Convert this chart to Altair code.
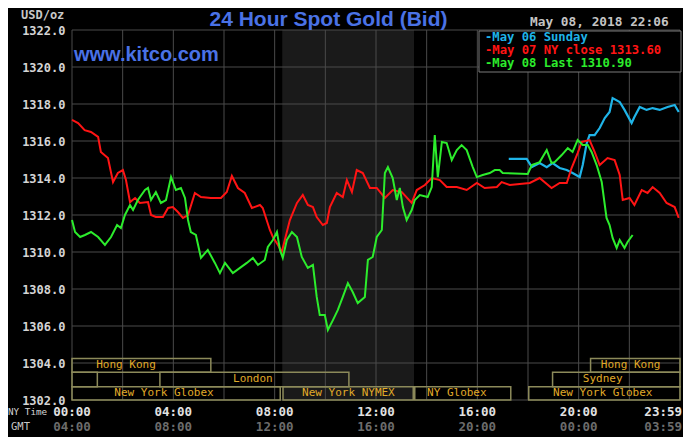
import altair as alt
import pandas as pd

# ---------------- data (hours in NY time, price in USD/oz) ----------------
red_points = [  # May 07 NY close
    (0.00, 1317.14), (0.24, 1316.97), (0.50, 1316.59), (0.75, 1316.49), (1.03, 1316.22),
    (1.14, 1315.41), (1.42, 1315.08), (1.62, 1313.78), (1.81, 1314.27), (2.01, 1314.43),
    (2.13, 1313.89), (2.29, 1312.70), (2.49, 1312.92), (2.68, 1312.65), (3.00, 1312.70),
    (3.12, 1312.00), (3.31, 1311.89), (3.59, 1311.89), (3.79, 1312.38), (3.98, 1312.43),
    (4.18, 1312.16), (4.38, 1311.84), (4.58, 1312.00), (4.85, 1313.19), (5.09, 1312.97),
    (5.48, 1312.92), (5.88, 1312.92), (6.11, 1313.24), (6.31, 1314.11), (6.55, 1313.46),
    (6.82, 1313.19), (7.10, 1312.38), (7.42, 1312.54), (7.53, 1312.38), (7.81, 1311.19),
    (7.93, 1310.81), (8.13, 1310.38), (8.28, 1310.00), (8.40, 1310.65), (8.60, 1311.73),
    (8.88, 1312.65), (9.11, 1313.08), (9.31, 1312.54), (9.51, 1312.43), (9.66, 1311.89),
    (9.90, 1311.46), (10.06, 1311.57), (10.18, 1312.43), (10.45, 1313.19), (10.69, 1312.97),
    (10.85, 1313.89), (11.05, 1313.24), (11.24, 1314.43), (11.48, 1314.27), (11.76, 1313.46),
    (12.03, 1313.46), (12.35, 1312.92), (12.66, 1313.35), (13.02, 1313.24), (13.41, 1312.65),
    (13.61, 1313.35), (13.93, 1313.62), (14.20, 1314.00), (14.52, 1313.89), (14.79, 1313.51),
    (15.19, 1313.51), (15.58, 1313.35), (15.98, 1313.73), (16.29, 1313.46), (16.77, 1313.51),
    (16.96, 1313.78), (17.28, 1313.62), (17.67, 1313.68), (18.07, 1313.73), (18.46, 1314.00),
    (18.93, 1313.46), (19.25, 1313.73), (19.53, 1313.73), (19.72, 1314.54), (19.96, 1315.35),
    (20.12, 1315.95), (20.43, 1316.05), (20.63, 1315.41), (20.83, 1314.70), (21.14, 1315.08),
    (21.42, 1314.97), (21.62, 1314.16), (21.74, 1312.81), (22.01, 1312.92), (22.20, 1312.54),
    (22.49, 1313.35), (22.72, 1313.19), (22.92, 1313.51), (23.20, 1313.19), (23.47, 1312.65),
    (23.79, 1312.43), (23.95, 1311.84),
]

green_points = [  # May 08 Last
    (0.00, 1311.73), (0.12, 1311.08), (0.32, 1310.81), (0.51, 1310.92), (0.75, 1311.08),
    (1.03, 1310.81), (1.30, 1310.38), (1.54, 1310.81), (1.78, 1311.46), (1.93, 1311.30),
    (2.09, 1312.00), (2.29, 1312.54), (2.41, 1312.27), (2.60, 1312.81), (2.88, 1313.35),
    (3.00, 1313.46), (3.12, 1312.81), (3.31, 1313.24), (3.51, 1312.65), (3.71, 1312.81),
    (3.91, 1314.05), (4.10, 1313.35), (4.30, 1313.46), (4.46, 1312.92), (4.58, 1311.73),
    (4.69, 1311.08), (4.89, 1310.92), (5.09, 1309.68), (5.36, 1310.11), (5.64, 1309.41),
    (5.84, 1308.86), (6.04, 1309.41), (6.35, 1308.86), (6.63, 1309.14), (6.90, 1309.41),
    (7.14, 1309.68), (7.34, 1309.30), (7.61, 1309.57), (7.73, 1310.27), (7.93, 1310.65),
    (8.09, 1311.08), (8.21, 1310.11), (8.32, 1309.68), (8.48, 1310.65), (8.68, 1311.08),
    (8.88, 1310.81), (9.07, 1309.73), (9.31, 1309.14), (9.51, 1309.30), (9.66, 1307.57),
    (9.78, 1306.59), (9.98, 1306.59), (10.10, 1305.78), (10.30, 1306.32), (10.49, 1306.86),
    (10.69, 1307.57), (10.89, 1308.32), (11.08, 1307.84), (11.28, 1307.24), (11.56, 1307.57),
    (11.68, 1309.57), (11.87, 1309.73), (12.03, 1310.81), (12.23, 1311.19), (12.35, 1314.27),
    (12.47, 1314.59), (12.66, 1314.00), (12.82, 1312.81), (12.94, 1313.46), (13.06, 1312.43),
    (13.21, 1311.73), (13.41, 1312.27), (13.53, 1312.81), (13.73, 1313.08), (14.04, 1312.97),
    (14.20, 1313.51), (14.32, 1316.32), (14.44, 1314.05), (14.60, 1315.95), (14.79, 1315.89),
    (14.99, 1314.97), (15.19, 1315.51), (15.38, 1315.78), (15.58, 1315.51), (15.82, 1314.59),
    (15.98, 1314.05), (16.21, 1314.16), (16.49, 1314.27), (16.69, 1314.43), (16.88, 1314.43),
    (17.00, 1314.27), (17.99, 1314.22), (18.15, 1314.70), (18.46, 1314.86), (18.74, 1315.51),
    (18.93, 1314.81), (19.05, 1314.86), (19.33, 1315.24), (19.57, 1315.62), (19.76, 1315.41),
    (19.96, 1316.05), (20.16, 1315.78), (20.36, 1315.78), (20.51, 1315.41), (20.71, 1314.70),
    (20.91, 1313.78), (21.10, 1311.84), (21.22, 1311.46), (21.34, 1310.76), (21.50, 1310.22),
    (21.62, 1310.65), (21.81, 1310.22), (21.93, 1310.54), (22.13, 1310.92),
]

cyan_points = [  # May 06 Sunday
    (17.24, 1315.03), (17.95, 1315.03), (18.15, 1314.59), (18.46, 1314.81), (18.74, 1314.59),
    (18.97, 1314.81), (19.25, 1314.54), (19.53, 1314.43), (19.76, 1314.27), (20.04, 1314.05),
    (20.16, 1314.70), (20.32, 1315.89), (20.43, 1316.32), (20.63, 1316.32), (20.83, 1316.70),
    (21.03, 1317.24), (21.22, 1317.57), (21.34, 1318.32), (21.62, 1318.11), (21.81, 1317.68),
    (22.09, 1316.97), (22.20, 1317.30), (22.41, 1317.84), (22.68, 1317.68), (22.92, 1317.78),
    (23.20, 1317.68), (23.51, 1317.84), (23.79, 1317.95), (23.95, 1317.57),
]

grid_hours = [0, 2, 4, 6, 8, 10, 12, 14, 16, 18, 20, 22, 24]
grid_prices = [1302, 1304, 1306, 1308, 1310, 1312, 1314, 1316, 1318, 1320, 1322]

tick_hours = [0, 4, 8, 12, 16, 20]
ny_tick_labels = ["00:00", "04:00", "08:00", "12:00", "16:00", "20:00"]
gmt_tick_labels = ["04:00", "08:00", "12:00", "16:00", "20:00", "00:00"]
last_tick_hour = [24]
last_ny_label = ["23:59"]
last_gmt_label = ["03:59"]

nymex_start = [8.3]
nymex_end = [13.5]

row_tops = [1304.25, 1303.5, 1302.72]
row_bottoms = [1303.5, 1302.72, 1302.0]
box_rows = [1, 1, 2, 2, 2, 3, 3, 3, 3]
box_starts = [0.0, 20.47, 0.0, 3.47, 18.97, 0.0, 8.33, 13.53, 18.03]
box_ends = [5.48, 24.0, 1.0, 10.93, 24.0, 8.22, 13.47, 17.32, 24.0]

session_labels = ["Hong Kong", "Hong Kong", "London", "Sydney", "New York Globex",
                  "New York NYMEX", "NY Globex", "New York Globex"]
session_label_hours = [2.13, 22.05, 7.14, 20.95, 3.63, 10.91, 15.19, 20.95]
session_label_rows = [1, 1, 2, 2, 3, 3, 3, 3]

legend_texts = ["-May 06 Sunday", "-May 07 NY close 1313.60", "-May 08 Last 1310.90"]
title_text = "24 Hour Spot Gold (Bid)"
site_text = "www.kitco.com"
date_text = "May 08, 2018 22:06"

# ---------------- styles ----------------
RED = "#ff1414"
GREEN = "#2cec2c"
CYAN = "#1fb4e8"
BLUE = "#4a72e6"
GRID = "#4a4a4a"
GOLD = "#e0aa28"
BOXC = "#8c8a5a"
MONO = "DejaVu Sans Mono"

xscale = alt.Scale(domain=[0, 24], nice=False, zero=False)
yscale = alt.Scale(domain=[1302, 1322], nice=False, zero=False)
X = alt.X("h:Q", scale=xscale, axis=None)
yaxis = alt.Axis(values=grid_prices, format=".1f", labelFont=MONO, labelFontWeight="bold",
                 labelFontSize=12, labelColor="#d4d4d4", domain=False, ticks=False,
                 tickSize=0, grid=False, labelPadding=7, title=None)
Y = alt.Y("p:Q", scale=yscale, axis=yaxis)

red_df = pd.DataFrame(red_points, columns=["h", "p"])
green_df = pd.DataFrame(green_points, columns=["h", "p"])
cyan_df = pd.DataFrame(cyan_points, columns=["h", "p"])

shade = alt.Chart(pd.DataFrame({"h": nymex_start, "h2": nymex_end})).mark_rect(
    color="#1a1a1a").encode(x=X, x2="h2:Q")

vgrid = alt.Chart(pd.DataFrame({"h": grid_hours})).mark_rule(
    color=GRID, strokeWidth=1).encode(x=X)
hgrid = alt.Chart(pd.DataFrame({"p": grid_prices})).mark_rule(
    color=GRID, strokeWidth=1).encode(y=Y)

boxes_df = pd.DataFrame({
    "h": box_starts, "h2": box_ends,
    "p": [row_tops[r - 1] for r in box_rows],
    "p2": [row_bottoms[r - 1] for r in box_rows],
})
boxes = alt.Chart(boxes_df).mark_rect(fillOpacity=0, stroke=BOXC, strokeWidth=1.5).encode(
    x=X, x2="h2:Q", y=Y, y2="p2:Q")

labels_df = pd.DataFrame({
    "t": session_labels, "h": session_label_hours,
    "top": [row_tops[r - 1] for r in session_label_rows],
    "bot": [row_bottoms[r - 1] for r in session_label_rows],
})
sess_text = alt.Chart(labels_df).transform_calculate(
    p="(datum.top + datum.bot) / 2").mark_text(
    font=MONO, fontSize=11, color=GOLD, align="center", baseline="middle").encode(
    x=X, y=Y, text="t:N")

cyan_line = alt.Chart(cyan_df).mark_line(color=CYAN, strokeWidth=2.2).encode(x=X, y=Y)
red_line = alt.Chart(red_df).mark_line(color=RED, strokeWidth=2).encode(x=X, y=Y)
green_line = alt.Chart(green_df).mark_line(color=GREEN, strokeWidth=2).encode(x=X, y=Y)


def tick_layer(hours, texts, ypos, color, align="center", dx=0):
    return alt.Chart(pd.DataFrame({"h": hours, "t": texts})).mark_text(
        font=MONO, fontWeight="bold", fontSize=12.5, color=color, align=align,
        baseline="middle", dx=dx).encode(x=X, y=alt.value(ypos), text="t:N")


ny_ticks = tick_layer(tick_hours, ny_tick_labels, 381.5, "#e2e2e2")
gmt_ticks = tick_layer(tick_hours, gmt_tick_labels, 397, "#6c6c6c")
ny_last = tick_layer(last_tick_hour, last_ny_label, 381.5, "#e2e2e2", align="right", dx=2)
gmt_last = tick_layer(last_tick_hour, last_gmt_label, 397, "#6c6c6c", align="right", dx=2)


def note(text, x, y, **kw):
    return alt.Chart(pd.DataFrame({"t": [text]})).mark_text(**kw).encode(
        x=alt.value(x), y=alt.value(y), text="t:N")


title = note(title_text, 256.5, -4.5, font="Liberation Sans", fontWeight="bold",
             fontSize=21, color=BLUE, align="center", baseline="alphabetic")
site = note(site_text, 2, 31, font="Liberation Sans", fontWeight="bold",
            fontSize=20, color=BLUE, align="left", baseline="alphabetic")
date = note(date_text, 458, -8, font=MONO, fontWeight="bold", fontSize=12.8,
            color="#c4c4c4", align="left", baseline="middle")
usd = note("USD/oz", -51, -15, font=MONO, fontWeight="bold", fontSize=12,
           color="#c8c8c8", align="left", baseline="middle")
nytime = note("NY Time", -64, 381.5, font=MONO, fontSize=9.3, color="#d4d4d4",
              align="left", baseline="middle")
gmt = note("GMT", -61, 397, font=MONO, fontSize=10.5, color="#c8c8c8",
           align="left", baseline="middle")

legend_box = alt.Chart(pd.DataFrame({"t": [""]})).mark_rect(
    fill="#000000", stroke="#7a7a7a", strokeWidth=1).encode(
    x=alt.value(407), x2=alt.value(609), y=alt.value(1), y2=alt.value(42))
leg1 = note(legend_texts[0], 413, 7.2, font=MONO, fontWeight="bold", fontSize=12.2,
            color=CYAN, align="left", baseline="middle")
leg2 = note(legend_texts[1], 413, 20.1, font=MONO, fontWeight="bold", fontSize=12.2,
            color=RED, align="left", baseline="middle")
leg3 = note(legend_texts[2], 413, 33, font=MONO, fontWeight="bold", fontSize=12.2,
            color=GREEN, align="left", baseline="middle")

chart = alt.layer(
    shade, vgrid, hgrid, boxes, sess_text, cyan_line, red_line, green_line,
    ny_ticks, gmt_ticks, ny_last, gmt_last,
    title, site, date, usd, nytime, gmt, legend_box, leg1, leg2, leg3,
).properties(
    width=608, height=370,
    autosize=alt.AutoSizeParams(type="none"),
    padding={"left": 64, "top": 22, "right": 3, "bottom": 37},
    background="#000000",
).configure_view(strokeWidth=0)

chart.save("out.html", embed_options={"renderer": "svg", "actions": False})
